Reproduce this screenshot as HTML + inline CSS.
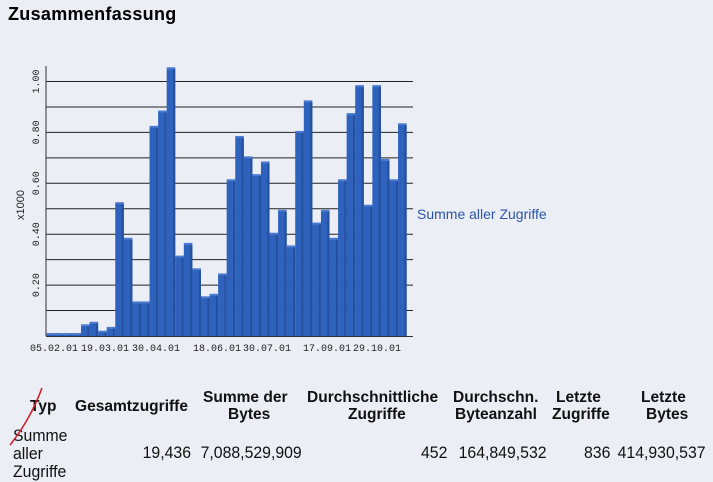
<!DOCTYPE html>
<html><head><meta charset="utf-8"><style>
body{margin:0;width:713px;height:482px;background:#eceef5;position:relative;overflow:hidden;font-family:"Liberation Sans",sans-serif}
.t{position:absolute;font-weight:bold;font-size:16px;color:#111;white-space:nowrap;transform-origin:0 0;transform:scaleX(.97)}
.n{position:absolute;font-size:17px;color:#111;white-space:nowrap;transform-origin:100% 0;transform:scaleX(.93);text-align:right}
</style></head><body>
<div style="position:absolute;left:8px;top:4px;font-weight:bold;font-size:18px;letter-spacing:0.3px">Zusammenfassung</div>
<svg id="c" width="713" height="370" style="position:absolute;left:0;top:0" font-family="Liberation Mono,monospace"></svg>
<div style="position:absolute;left:417px;top:206px;color:#2b55a8;font-size:14px">Summe aller Zugriffe</div>
<div class="t" style="left:30px;top:398px">Typ</div>
<div class="t" style="left:75px;top:398px">Gesamtzugriffe</div>
<div class="t" style="left:203px;top:389px">Summe der</div>
<div class="t" style="left:228px;top:406px">Bytes</div>
<div class="t" style="left:307px;top:389px">Durchschnittliche</div>
<div class="t" style="left:348px;top:406px">Zugriffe</div>
<div class="t" style="left:453px;top:389px">Durchschn.</div>
<div class="t" style="left:455px;top:406px">Byteanzahl</div>
<div class="t" style="left:556px;top:389px">Letzte</div>
<div class="t" style="left:552px;top:406px">Zugriffe</div>
<div class="t" style="left:641px;top:389px">Letzte</div>
<div class="t" style="left:646px;top:406px">Bytes</div>
<div class="n" style="left:13px;top:427px;transform-origin:0 0;text-align:left;line-height:18px">Summe<br>aller<br>Zugriffe</div>
<div class="n" style="right:522px;top:443px">19,436</div>
<div class="n" style="right:411px;top:443px">7,088,529,909</div>
<div class="n" style="right:266px;top:443px">452</div>
<div class="n" style="right:166px;top:443px">164,849,532</div>
<div class="n" style="right:103px;top:443px">836</div>
<div class="n" style="right:7px;top:443px">414,930,537</div>
<svg width="713" height="482" style="position:absolute;left:0;top:0"><path d="M42 388 Q30 420 10 445" stroke="#d0202a" stroke-width="1.6" fill="none"/></svg>
<script>
var v=[0,0,0,0.005,.04,.05,.015,.03,.52,.38,.13,.13,.82,.88,1.05,.31,.36,.26,.15,.16,.24,.61,.78,.70,.63,.68,.40,.49,.35,.80,.92,.44,.49,.38,.61,.87,.98,.51,.98,.69,.61,.83];
var s='';var B=336,k=254.5;
for(var i=1;i<=10;i++){var y=B-i*k/10;s+='<line x1="46" x2="413" y1="'+y+'" y2="'+y+'" stroke="#222" stroke-width="1"/>';}
s+='<line x1="46" x2="46" y1="66" y2="336" stroke="#333"/><line x1="46" x2="413" y1="336.5" y2="336.5" stroke="#333"/>';
var w=8.57;
for(var i=0;i<v.length;i++){var x=46.7+i*w,h=Math.max(v[i]*k,1.5),y=B-h;
s+='<rect x="'+x+'" y="'+y+'" width="'+w+'" height="'+h+'" fill="#2f62bd"/>';
s+='<rect x="'+(x+w-2.2)+'" y="'+y+'" width="2.2" height="'+h+'" fill="#24509e"/>';
s+='<rect x="'+x+'" y="'+(y-1.5)+'" width="'+w+'" height="2" fill="#4a7bd0"/>';}
var L=[[30,'05.02.01'],[81,'19.03.01'],[132,'30.04.01'],[193,'18.06.01'],[243,'30.07.01'],[303,'17.09.01'],[353,'29.10.01']];
L.forEach(function(l){s+='<text x="'+l[0]+'" y="351" font-size="10" textLength="48" lengthAdjust="spacingAndGlyphs" fill="#222">'+l[1]+'</text>';});
for(var i=2;i<=10;i+=2){var y=B-i*k/10;s+='<text transform="translate(39,'+y+') rotate(-90)" text-anchor="middle" font-size="10" fill="#222">'+(i/10).toFixed(2)+'</text>';}
s+='<text transform="translate(24,205) rotate(-90)" text-anchor="middle" font-size="11" fill="#222" font-family="Liberation Sans">x1000</text>';
document.getElementById('c').innerHTML=s;
</script>
</body></html>
